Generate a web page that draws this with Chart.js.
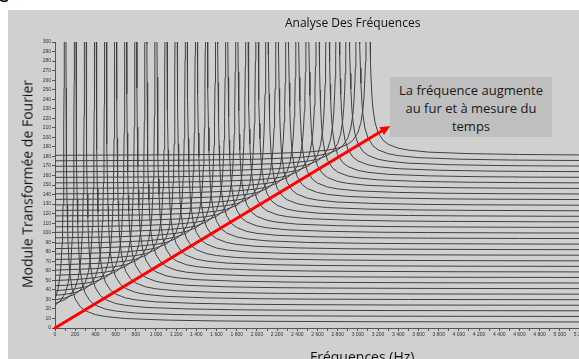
<!DOCTYPE html>
<html lang="fr">
<head>
  <meta charset="UTF-8" />
  <title>Analyse Des Fréquences</title>
  <script src="https://cdn.jsdelivr.net/npm/chart.js"></script>
  <style>
    html, body {
      margin: 0;
      width: 579px;
      height: 359px;
      overflow: hidden;
      background: #ffffff;
      font-family: "Open Sans", sans-serif;
    }
    .cut {
      position: absolute;
      left: -3px;
      top: -18px;
      font-size: 22px;
      line-height: 22px;
      color: #000;
    }
    .panel {
      position: absolute;
      left: 8px;
      top: 10px;
      width: 600px;
      height: 349px;
      background: #d0d0d0;
    }
    canvas { position: absolute; left: 0; top: 0; }
    .title {
      position: absolute;
      left: 277px;
      top: 4px;
      font-size: 12px;
      color: #111;
      white-space: nowrap;
    }
    .ytitle {
      position: absolute;
      left: 19px;
      top: 174px;
      font-size: 14px;
      color: #111;
      white-space: nowrap;
      transform: translate(-50%, -50%) rotate(-90deg);
    }
    .xtitle {
      position: absolute;
      left: 302px;
      top: 337px;
      font-size: 14px;
      color: #111;
      white-space: nowrap;
    }
    .note {
      position: absolute;
      left: 382px;
      top: 67px;
      width: 162px;
      height: 56px;
      padding-top: 4px;
      background: #bfbfbf;
      color: #1a1a1a;
      font-size: 13px;
      line-height: 18px;
      text-align: center;
    }
  </style>
</head>
<body>
  <div class="cut">e</div>
  <div class="panel">
    <canvas id="freqChart" width="600" height="349"></canvas>
    <div class="title">Analyse Des Fréquences</div>
    <div class="ytitle">Module Transformée de Fourier</div>
    <div class="xtitle">Fréquences (Hz)</div>
    <div class="note">La fréquence augmente<br>au fur et à mesure du<br>temps</div>
  </div>

  <script>
    // resonance frequency of each spectrum (Hz)
    const resonances = [100, 200, 300, 400, 500, 600, 700, 800, 900, 1000,
      1100, 1200, 1300, 1400, 1500, 1600, 1700, 1800, 1900, 2000,
      2100, 2200, 2300, 2400, 2500, 2600, 2700, 2800, 2900, 3000, 3100];

    // level each spectrum settles to away from its peak
    const baseLevels = [5.8, 11.6, 17.5, 23.3, 29.1, 34.9, 40.7, 46.6, 52.4, 58.2,
      64.0, 69.8, 75.7, 81.5, 87.3, 93.1, 98.9, 104.8, 110.6, 116.4,
      122.2, 128.0, 133.9, 139.7, 145.5, 151.3, 157.1, 163.0, 168.8, 174.6, 180.4];

    // distance from the peak (Hz) and height above the base level
    const peakOffsets = [8, 10, 12, 15, 20, 25, 30, 40, 50, 70, 100, 150, 200,
      300, 400, 600, 1000, 1500, 2000, 3000, 5200];
    const peakRise = [308, 246, 205, 164, 123, 98.4, 82, 61.5, 49.2, 35.1, 24.6, 16.4, 12.3,
      8.2, 6.2, 4.1, 2.5, 1.6, 1.2, 0.8, 0.5];

    // arrow drawn over the spectra, in Hz / module units
    const arrowStart = [0, 0];
    const arrowEnd = [3320, 212];

    const yTicks = { min: 0, max: 300, step: 10 };
    const xTicks = { min: 0, max: 5200, step: 100, labelEvery: 200 };

    function spectrum(f0, base) {
      const left = [];
      const right = [];
      peakOffsets.forEach((d, j) => {
        left.unshift({ x: f0 - d, y: base + peakRise[j] });
        right.push({ x: f0 + d, y: base + peakRise[j] });
      });
      return left.concat(right);
    }

    const datasets = resonances.map((f0, i) => ({
      data: spectrum(f0, baseLevels[i]),
      borderColor: "#404040",
      borderWidth: 1,
      pointRadius: 0,
      fill: false
    }));

    const arrowPlugin = {
      id: "arrow",
      afterDatasetsDraw(chart) {
        const { ctx, scales } = chart;
        const x0 = scales.x.getPixelForValue(arrowStart[0]);
        const y0 = scales.y.getPixelForValue(arrowStart[1]);
        const x1 = scales.x.getPixelForValue(arrowEnd[0]);
        const y1 = scales.y.getPixelForValue(arrowEnd[1]);
        const ang = Math.atan2(y1 - y0, x1 - x0);
        const head = 10;
        ctx.save();
        ctx.strokeStyle = "#ff0000";
        ctx.fillStyle = "#ff0000";
        ctx.lineWidth = 3;
        ctx.lineCap = "round";
        ctx.beginPath();
        ctx.moveTo(x0, y0);
        ctx.lineTo(x1 - head * 0.8 * Math.cos(ang), y1 - head * 0.8 * Math.sin(ang));
        ctx.stroke();
        ctx.beginPath();
        ctx.moveTo(x1, y1);
        ctx.lineTo(x1 - head * Math.cos(ang) + 4.5 * Math.sin(ang), y1 - head * Math.sin(ang) - 4.5 * Math.cos(ang));
        ctx.lineTo(x1 - head * Math.cos(ang) - 4.5 * Math.sin(ang), y1 - head * Math.sin(ang) + 4.5 * Math.cos(ang));
        ctx.closePath();
        ctx.fill();
        ctx.restore();
      }
    };

    const tickFont = { family: "Liberation Sans", size: 5 };

    new Chart(document.getElementById("freqChart"), {
      type: "line",
      data: { datasets: datasets },
      options: {
        responsive: false,
        animation: false,
        layout: { padding: { top: 32, right: 28, left: 0, bottom: 0 } },
        plugins: { legend: { display: false }, tooltip: { enabled: false } },
        scales: {
          x: {
            type: "linear",
            min: xTicks.min,
            max: xTicks.max,
            afterFit: s => { s.height = 31; },
            border: { color: "#555", width: 1 },
            grid: { drawOnChartArea: false, tickLength: 3, color: "#555" },
            ticks: {
              stepSize: xTicks.step,
              autoSkip: false,
              maxRotation: 0,
              padding: 1,
              color: "#333",
              font: tickFont,
              callback: v => v % xTicks.labelEvery === 0 ? String(v).replace(/\B(?=(\d{3})+$)/g, " ") : ""
            }
          },
          y: {
            min: yTicks.min,
            max: yTicks.max,
            afterFit: s => { s.width = 47; },
            border: { color: "#555", width: 1 },
            grid: { drawOnChartArea: false, tickLength: 3, color: "#555" },
            ticks: {
              stepSize: yTicks.step,
              autoSkip: false,
              padding: 1,
              color: "#333",
              font: tickFont
            }
          }
        }
      },
      plugins: [arrowPlugin]
    });
  </script>
</body>
</html>
